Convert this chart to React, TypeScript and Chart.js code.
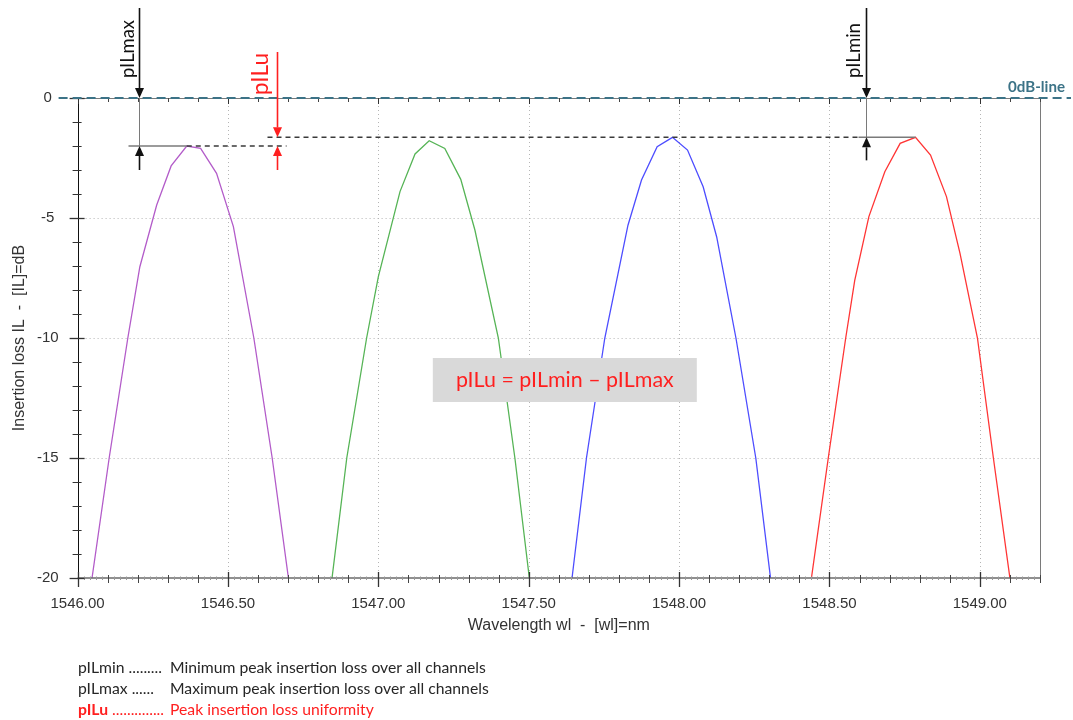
import React, { useEffect, useRef } from "react";
import { Chart, registerables } from "chart.js";

Chart.register(...registerables);

// ---------- data ----------
const purpleWl = [1546.048, 1546.105, 1546.167, 1546.207, 1546.263, 1546.311, 1546.363, 1546.409, 1546.462, 1546.518, 1546.586, 1546.647, 1546.701];
const purpleIL = [-20, -15, -10, -7.03, -4.46, -2.83, -2.0, -2.1, -3.14, -5.36, -10, -15, -20];

const greenWl = [1546.846, 1546.895, 1546.961, 1547.0, 1547.072, 1547.122, 1547.169, 1547.221, 1547.274, 1547.321, 1547.399, 1547.454, 1547.502];
const greenIL = [-20, -15, -10, -7.44, -3.9, -2.33, -1.78, -2.1, -3.39, -5.5, -10, -15, -20];

const blueWl = [1547.644, 1547.692, 1547.753, 1547.83, 1547.875, 1547.927, 1547.978, 1548.028, 1548.08, 1548.125, 1548.189, 1548.255, 1548.304];
const blueIL = [-20, -15, -10, -5.3, -3.42, -2.03, -1.64, -2.17, -3.7, -5.79, -10, -15, -20];

const redWl = [1548.44, 1548.496, 1548.554, 1548.584, 1548.631, 1548.684, 1548.735, 1548.786, 1548.836, 1548.889, 1548.934, 1548.992, 1549.045, 1549.1];
const redIL = [-20, -15, -10, -7.6, -4.94, -3.07, -1.89, -1.64, -2.38, -4.11, -6.47, -10, -15, -20];

const xTickValues = [1546.0, 1546.5, 1547.0, 1547.5, 1548.0, 1548.5, 1549.0];
const yTickValues = [0, -5, -10, -15, -20];
const X_MIN = 1546.0;
const X_MAX = 1549.2;
const Y_MIN = -20;
const Y_MAX = 0;

// annotation values (data units)
const PILMAX_LEVEL = -2.0;
const PILMIN_LEVEL = -1.64;
const PILMAX_WL = 1546.204;
const PILMIN_WL = 1548.623;
const PILU_WL = 1546.662;
const PILMAX_PEAK_WL = 1546.363;
const PILMIN_PEAK_WL = 1548.786;
const FORMULA_WL = 1547.62;
const FORMULA_IL = -11.75;

const X_TITLE = "Wavelength wl  -  [wl]=nm";
const Y_TITLE = "Insertion loss IL  -  [IL]=dB";
const ZERO_LABEL = "0dB-line";
const FORMULA = "pILu = pILmin \u2013 pILmax";
const legendKeys = ["pILmin", "pILmax", "pILu"];
const legendDots = [" .........", " ......", " .............."];
const legendTexts = [
  "Minimum peak insertion loss over all channels",
  "Maximum peak insertion loss over all channels",
  "Peak insertion loss uniformity",
];

const AXIS_FONT = "'Liberation Sans', Arial, sans-serif";
const NOTE_FONT = "Lato, 'Open Sans', sans-serif";

const series = [
  { name: "ch1", wl: purpleWl, il: purpleIL, color: "#b35cc9" },
  { name: "ch2", wl: greenWl, il: greenIL, color: "#56b456" },
  { name: "ch3", wl: blueWl, il: blueIL, color: "#4d4dff" },
  { name: "ch4", wl: redWl, il: redIL, color: "#ff3535" },
];

function fitSize(ctx: CanvasRenderingContext2D, text: string, width: number, weight: string, family: string) {
  ctx.font = `${weight} 100px ${family}`;
  const w = ctx.measureText(text).width;
  return (100 * width) / w;
}

function seg(ctx: CanvasRenderingContext2D, x1: number, y1: number, x2: number, y2: number) {
  ctx.beginPath();
  ctx.moveTo(x1, y1);
  ctx.lineTo(x2, y2);
  ctx.stroke();
}

function arrow(ctx: CanvasRenderingContext2D, x: number, yFrom: number, yTo: number, color: string) {
  const dir = Math.sign(yTo - yFrom);
  const head = 10;
  const half = 4.5;
  ctx.save();
  ctx.strokeStyle = color;
  ctx.fillStyle = color;
  ctx.lineWidth = 1.6;
  ctx.setLineDash([]);
  seg(ctx, x, yFrom, x, yTo - dir * head);
  ctx.beginPath();
  ctx.moveTo(x, yTo);
  ctx.lineTo(x - half, yTo - dir * head);
  ctx.lineTo(x + half, yTo - dir * head);
  ctx.closePath();
  ctx.fill();
  ctx.restore();
}

function vText(ctx: CanvasRenderingContext2D, text: string, rightX: number, bottomY: number, size: number, color: string, weight = "normal") {
  ctx.save();
  ctx.font = `${weight} ${size}px ${NOTE_FONT}`;
  ctx.fillStyle = color;
  ctx.translate(rightX, bottomY);
  ctx.rotate(-Math.PI / 2);
  ctx.textAlign = "left";
  ctx.textBaseline = "bottom";
  ctx.fillText(text, 0, 0);
  ctx.restore();
}

const decor = {
  id: "decor",
  beforeDatasetsDraw(chart: any) {
    const { ctx, chartArea: ca, scales } = chart;
    const xs = scales.x;
    const ys = scales.y;
    ctx.save();
    ctx.strokeStyle = "#b5b5b5";
    ctx.lineWidth = 1;
    ctx.setLineDash([1, 3]);
    xTickValues.forEach((v) => {
      if (v === X_MIN) return;
      const px = Math.round(xs.getPixelForValue(v)) + 0.5;
      seg(ctx, px, ca.top, px, ca.bottom);
    });
    yTickValues.forEach((v) => {
      if (v === Y_MIN || v === Y_MAX) return;
      const py = Math.round(ys.getPixelForValue(v)) + 0.5;
      seg(ctx, ca.left, py, ca.right, py);
    });
    ctx.restore();
  },
  afterDatasetsDraw(chart: any) {
    const { ctx, chartArea: ca, scales } = chart;
    const xs = scales.x;
    const ys = scales.y;
    ctx.save();
    ctx.setLineDash([]);

    // frame
    ctx.lineWidth = 1;
    ctx.strokeStyle = "#7a7a7a";
    seg(ctx, ca.right + 0.5, ca.top, ca.right + 0.5, ca.bottom);
    seg(ctx, ca.left, ca.top + 0.5, ca.right, ca.top + 0.5);
    ctx.strokeStyle = "#111";
    const axX = Math.round(ca.left) + 0.5;
    seg(ctx, axX, ca.top, axX, ca.bottom);
    ctx.strokeStyle = "#6a6a6a";
    ctx.lineWidth = 1.5;
    seg(ctx, ca.left, ca.bottom, ca.right, ca.bottom);

    // x ticks
    ctx.lineWidth = 1;
    for (let k = 0; k <= 160; k++) {
      const v = X_MIN + k / 50;
      const px = Math.round(xs.getPixelForValue(v)) + 0.5;
      if (k % 25 === 0) {
        ctx.strokeStyle = "#333";
        ctx.lineWidth = 1.3;
        seg(ctx, px, ca.bottom - 6, px, ca.bottom + 9);
        ctx.lineWidth = 1;
        seg(ctx, px, ca.top, px, ca.top + 6);
      } else if (k % 5 === 0) {
        ctx.strokeStyle = "#444";
        seg(ctx, px, ca.bottom - 3, px, ca.bottom + 5);
        seg(ctx, px, ca.top, px, ca.top + 4);
      } else {
        ctx.strokeStyle = "#999";
        seg(ctx, px, ca.bottom - 1.5, px, ca.bottom + 2);
      }
    }
    // y ticks
    for (let k = 0; k <= 20; k++) {
      const v = -k;
      const py = Math.round(ys.getPixelForValue(v)) + 0.5;
      ctx.strokeStyle = "#333";
      if (k % 5 === 0) {
        ctx.lineWidth = 1.3;
        seg(ctx, ca.left - 8, py, ca.left + 7, py);
      } else {
        ctx.lineWidth = 1;
        seg(ctx, ca.left - 5, py, ca.left + 4, py);
      }
    }

    // 0 dB line
    const y0 = ys.getPixelForValue(0);
    ctx.strokeStyle = "#3c7387";
    ctx.lineWidth = 2;
    ctx.setLineDash([9, 5]);
    seg(ctx, ca.left - 19, y0, chart.width - 2, y0);
    ctx.setLineDash([]);
    const zs = fitSize(ctx, ZERO_LABEL, 57, "bold", NOTE_FONT);
    ctx.font = `bold ${zs}px ${NOTE_FONT}`;
    ctx.fillStyle = "#3c7387";
    ctx.textAlign = "right";
    ctx.textBaseline = "alphabetic";
    ctx.fillText(ZERO_LABEL, ca.right + 25, y0 - 6.5);

    // level lines
    const yMaxL = ys.getPixelForValue(PILMAX_LEVEL);
    const yMinL = ys.getPixelForValue(PILMIN_LEVEL);
    const xMax = Math.round(xs.getPixelForValue(PILMAX_WL)) + 0.5;
    const xMin = Math.round(xs.getPixelForValue(PILMIN_WL)) + 0.5;
    const xU = Math.round(xs.getPixelForValue(PILU_WL)) + 0.5;
    const xMaxPeak = xs.getPixelForValue(PILMAX_PEAK_WL);
    const xMinPeak = xs.getPixelForValue(PILMIN_PEAK_WL);

    ctx.lineWidth = 1.5;
    ctx.strokeStyle = "#7a7a7a";
    seg(ctx, xMax - 11, yMaxL, xMaxPeak, yMaxL);
    seg(ctx, xMin - 8, yMinL, xMinPeak, yMinL);
    ctx.lineWidth = 1;
    seg(ctx, xMax, y0, xMax, yMaxL);
    seg(ctx, xMin, y0, xMin, yMinL);

    ctx.strokeStyle = "#3a3a3a";
    ctx.lineWidth = 1.5;
    ctx.setLineDash([5, 4]);
    seg(ctx, xMaxPeak, yMaxL, xU + 9, yMaxL);
    seg(ctx, xU - 10, yMinL, xMin - 8, yMinL);
    ctx.setLineDash([]);

    // arrows
    arrow(ctx, xMax, ca.top - 90, y0, "#111");
    arrow(ctx, xMax, yMaxL + 24, yMaxL, "#111");
    arrow(ctx, xMin, ca.top - 90, y0, "#111");
    arrow(ctx, xMin, yMinL + 23, yMinL, "#111");
    arrow(ctx, xU, ca.top - 46, yMinL, "#ff1f1f");
    arrow(ctx, xU, yMaxL + 24, yMaxL, "#ff1f1f");

    // rotated labels
    vText(ctx, "pILmax", xMax - 2, ca.top - 20, fitSize(ctx, "pILmax", 58, "normal", NOTE_FONT), "#111");
    vText(ctx, "pILmin", xMin - 3, ca.top - 20, fitSize(ctx, "pILmin", 55, "normal", NOTE_FONT), "#111");
    vText(ctx, "pILu", xU - 6, ca.top - 3, fitSize(ctx, "pILu", 42, "normal", NOTE_FONT), "#ff1f1f");

    // formula box
    const fx = xs.getPixelForValue(FORMULA_WL);
    const fy = ys.getPixelForValue(FORMULA_IL);
    ctx.fillStyle = "#d9d9d9";
    ctx.fillRect(fx - 132, fy - 22, 264, 44);
    const fs = fitSize(ctx, FORMULA, 218, "normal", NOTE_FONT);
    ctx.font = `normal ${fs}px ${NOTE_FONT}`;
    ctx.fillStyle = "#ff1f1f";
    ctx.textAlign = "center";
    ctx.textBaseline = "alphabetic";
    ctx.fillText(FORMULA, fx, fy + 7);

    // notes below the chart
    const ls = fitSize(ctx, legendTexts[0], 316, "normal", NOTE_FONT);
    const baseY = [672.5, 694, 714.5];
    legendKeys.forEach((key, i) => {
      const red = i === 2;
      const col = red ? "#ff1f1f" : "#262626";
      ctx.fillStyle = col;
      ctx.textAlign = "left";
      ctx.font = `${red ? "bold" : "normal"} ${ls}px ${NOTE_FONT}`;
      ctx.fillText(key, 78, baseY[i]);
      const kw = ctx.measureText(key).width;
      ctx.font = `normal ${ls}px ${NOTE_FONT}`;
      ctx.fillText(legendDots[i], 78 + kw, baseY[i]);
      ctx.fillText(legendTexts[i], 170, baseY[i]);
    });

    ctx.restore();
  },
};

export default function App() {
  const ref = useRef<HTMLCanvasElement | null>(null);
  useEffect(() => {
    if (!ref.current) return;
    const chart = new Chart(ref.current, {
      type: "line",
      data: {
        datasets: series.map((s) => ({
          label: s.name,
          data: s.wl.map((x, i) => ({ x, y: s.il[i] })),
          borderColor: s.color,
          backgroundColor: s.color,
          borderWidth: 1.3,
          pointRadius: 0,
          tension: 0,
          fill: false,
        })),
      },
      options: {
        animation: false,
        responsive: false,
        maintainAspectRatio: false,
        layout: { padding: { top: 98, right: 33, bottom: 80, left: 0 } },
        plugins: { legend: { display: false }, tooltip: { enabled: false } },
        scales: {
          x: {
            type: "linear",
            min: X_MIN,
            max: X_MAX,
            afterFit: (s: any) => {
              s.height = 62;
            },
            afterBuildTicks: (s: any) => {
              s.ticks = xTickValues.map((v) => ({ value: v }));
            },
            ticks: {
              callback: (v: any) => Number(v).toFixed(2),
              padding: 8.5,
              color: "#333",
              font: { size: 15, family: AXIS_FONT },
              maxRotation: 0,
              autoSkip: false,
            },
            grid: { display: false, drawTicks: true, tickLength: 8 },
            border: { display: false },
            title: {
              display: true,
              text: X_TITLE,
              color: "#333",
              font: { size: 16, family: AXIS_FONT },
              padding: { top: 0, bottom: 5 },
            },
          },
          y: {
            type: "linear",
            min: Y_MIN,
            max: Y_MAX,
            afterFit: (s: any) => {
              s.width = 77.6;
            },
            afterBuildTicks: (s: any) => {
              s.ticks = yTickValues.map((v) => ({ value: v }));
            },
            ticks: {
              crossAlign: "center",
              padding: 11,
              color: "#333",
              font: { size: 15, family: AXIS_FONT },
            },
            grid: { display: false, drawTicks: true, tickLength: 8 },
            border: { display: false },
            title: {
              display: true,
              text: Y_TITLE,
              color: "#333",
              font: { size: 16, family: AXIS_FONT },
              padding: { top: 10, bottom: 0 },
            },
          },
        },
      } as any,
      plugins: [decor],
    });
    return () => chart.destroy();
  }, []);

  return (
    <div style={{ position: "absolute", left: 0, top: 0, width: 1073, height: 720, background: "#fff" }}>
      <canvas ref={ref} width={1073} height={720} style={{ display: "block", width: 1073, height: 720 }} />
    </div>
  );
}
